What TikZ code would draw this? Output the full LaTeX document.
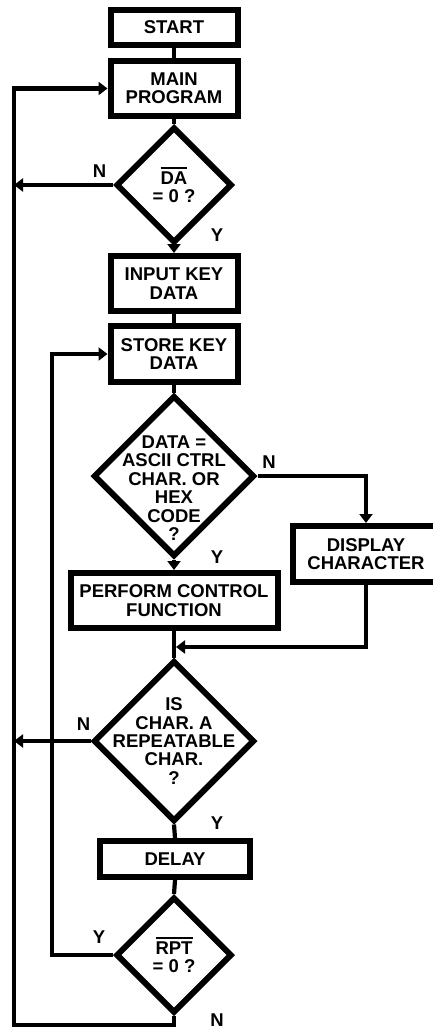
\documentclass[tikz,border=0pt]{standalone}
\usepackage{fontspec}
\setmainfont{Liberation Sans}
\usetikzlibrary{arrows.meta,shapes.geometric}
\newcommand{\ovl}[1]{\vbox{\hrule height 2pt\kern 2pt\hbox{#1}}}

\begin{document}
\begin{tikzpicture}[x=1pt,y=-1pt,>={Triangle[length=9pt,width=13pt]},
                    line width=4.2pt,
                    every node/.style={font=\bfseries\fontsize{18.5}{18.4}\selectfont},
                    process/.style={rectangle,draw,line width=6pt,align=center,inner sep=0pt},
                    decision/.style={diamond,draw,line width=6pt,aspect=1,align=center,inner sep=0pt},
                    answer/.style={inner sep=0pt}]

  \clip (0,0) rectangle (433,1030);

  \node[process,minimum width=127pt,minimum height=35pt] (start)   at (174,27.5)  {START};
  \node[process,minimum width=127pt,minimum height=55pt] (main)    at (174,88.5)  {MAIN\\PROGRAM};
  \node[decision,minimum size=116pt]                     (da)      at (174,185)   {\ovl{DA}\\= 0 ?};
  \node[process,minimum width=127pt,minimum height=55pt] (input)   at (174,283.5) {INPUT KEY\\DATA};
  \node[process,minimum width=127pt,minimum height=56pt] (store)   at (174,354)   {STORE KEY\\DATA};
  \node[decision,minimum size=161pt,inner sep=-25pt]     (ascii)   at (174,476)
       {\rule{0pt}{37pt}DATA =\\ASCII CTRL\\CHAR. OR\\HEX\\CODE\\?};
  \node[process,minimum width=146pt,minimum height=56pt] (display) at (366,554)   {DISPLAY\\CHARACTER};
  \node[process,minimum width=207pt,minimum height=55pt] (perform) at (174,600.5) {PERFORM CONTROL\\FUNCTION};
  \node[decision,minimum size=161pt,inner sep=-25pt]     (isrep)   at (174,741)
       {IS\\CHAR. A\\REPEATABLE\\CHAR.\\?};
  \node[process,minimum width=150pt,minimum height=36pt] (delay)   at (175,859)   {DELAY};
  \node[decision,minimum size=116pt]                     (rpt)     at (174,955)   {\ovl{RPT}\\= 0 ?};

  % answers
  \node[answer] (nda)    at (99.5,171) {N};
  \node[answer] (yda)    at (217,235)  {Y};
  \node[answer] (nascii) at (269,462)  {N};
  \node[answer] (yascii) at (217,557)  {Y};
  \node[answer] (nisrep) at (83.5,724) {N};
  \node[answer] (yisrep) at (217,823)  {Y};
  \node[answer] (yrpt)   at (99,937)   {Y};
  \node[answer] (nrpt)   at (217,1020) {N};

  \coordinate (nloop) at (14,1025);
  \coordinate (yloop) at (52,953);
  \coordinate (merge) at (176,647);

  % main column
  \draw (start.south) -- (main.north);
  \draw (main.south) -- (da.north);
  \draw[->] (da.south) -- (input.north);
  \draw (input.south) -- (store.north);
  \draw (store.south) -- (ascii.north);
  \draw[->] (ascii.south) -- (perform.north);
  \draw (perform.south) -- (isrep.north);
  \draw (isrep.south) -- (delay.north);
  \draw (delay.south) -- (rpt.north);

  % branches
  \draw[->] (ascii.east) -| (display.north);
  \draw[->] (display.south) |- (merge);
  \draw[->] (da.west) -- (da.west -| nloop);
  \draw[->] (isrep.west) -- (isrep.west -| nloop);
  \draw[->] (rpt.west) -- (rpt.west -| yloop) |- (store.west);
  \draw[->] (rpt.south) |- (nloop) |- (main.west);
\end{tikzpicture}
\end{document}
